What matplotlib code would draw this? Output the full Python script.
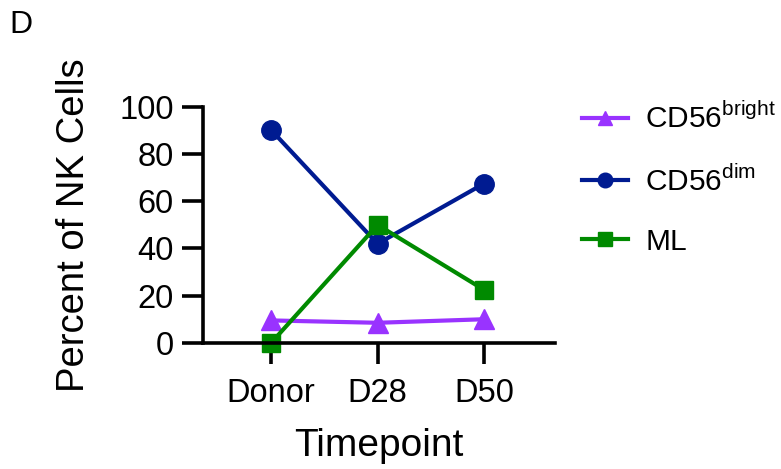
import numpy as np
import matplotlib.pyplot as plt

plt.rcParams['font.family'] = ['Liberation Sans', 'DejaVu Sans']

timepoints = ["Donor", "D28", "D50"]
cd56_bright = [9.5, 8.5, 10.0]
cd56_dim = [90.2, 42.0, 67.5]
ml = [0.0, 50.0, 22.5]

fig = plt.figure(figsize=(7.81, 4.69), dpi=100)
ax = fig.add_axes([0.26, 0.269, 0.451, 0.503])

x = np.arange(len(timepoints))
ax.plot(x, cd56_bright, marker="^", c="#9933ff", lw=3.0, ms=14, label="CD56$^{\\mathregular{bright}}$", clip_on=False)
ax.plot(x, cd56_dim, marker="o", c="#001b91", lw=3.0, ms=14, label="CD56$^{\\mathregular{dim}}$", clip_on=False)
ax.plot(x, ml, marker="s", c="#008a00", lw=3.0, ms=13.5, label="ML", clip_on=False)

ax.set_xlim(-0.64, 2.67)
ax.set_ylim(0, 100)
ax.set_yticks([0, 20, 40, 60, 80, 100])
ax.set_xticks(x)
ax.set_xticklabels(timepoints)
for s in ["top", "right"]:
    ax.spines[s].set_visible(False)
for s in ["left", "bottom"]:
    ax.spines[s].set_linewidth(2.6)
ax.tick_params(axis="x", length=15, width=2.6, labelsize=23.5, pad=10)
ax.tick_params(axis="y", length=15, width=2.6, labelsize=23.5, pad=6)
ax.set_xlabel("Timepoint", fontsize=28, labelpad=14)
ax.set_ylabel("Percent of NK Cells", fontsize=27.5, labelpad=20)

ax.legend(loc="upper left", bbox_to_anchor=(1.0, 1.13), frameon=False, fontsize=21.5,
          handlelength=1.54, labelspacing=1.04, handletextpad=0.57, markerscale=0.75)
fig.text(0.012, 0.93, "D", fontsize=23)

fig.savefig("out.png")
